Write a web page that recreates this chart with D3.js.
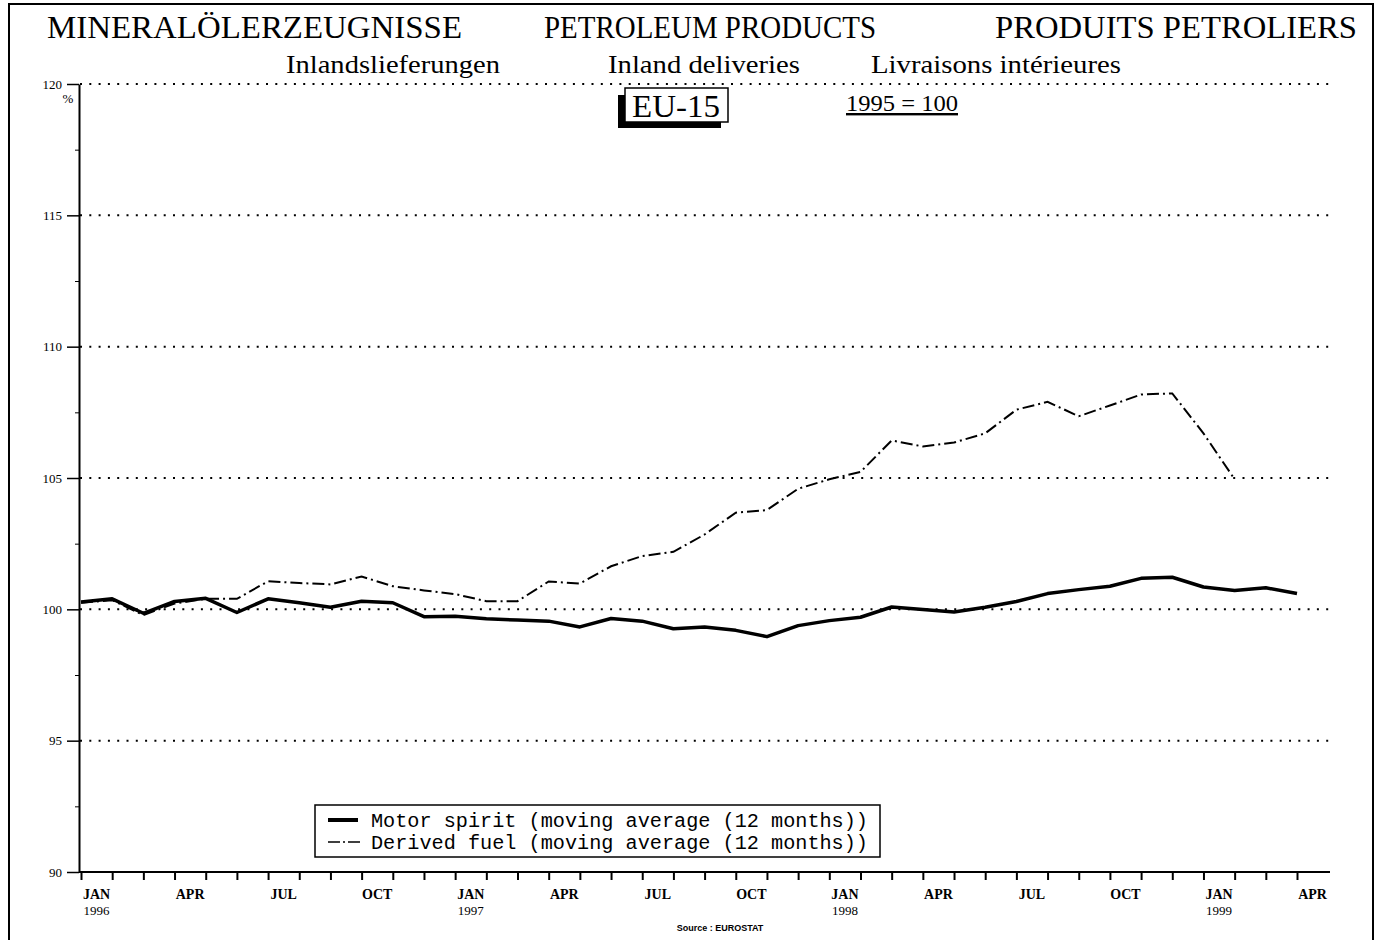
<!DOCTYPE html>
<meta charset="utf-8">
<style>
  body { margin: 0; background: #fff; }
  svg text { fill: #000; }
</style>
<script src="https://d3js.org/d3.v7.min.js"></script>
<div id="chart"></div>
<script>

  // months Jan 1996 .. Apr 1999
  var months = ["1996-01","1996-02","1996-03","1996-04","1996-05","1996-06","1996-07","1996-08","1996-09","1996-10","1996-11","1996-12",
                "1997-01","1997-02","1997-03","1997-04","1997-05","1997-06","1997-07","1997-08","1997-09","1997-10","1997-11","1997-12",
                "1998-01","1998-02","1998-03","1998-04","1998-05","1998-06","1998-07","1998-08","1998-09","1998-10","1998-11","1998-12",
                "1999-01","1999-02","1999-03","1999-04"]

  var monthLabels = {"01": "JAN", "04": "APR", "07": "JUL", "10": "OCT"}

  var motorSpirit = [100.28, 100.40, 99.85, 100.30, 100.42, 99.88, 100.40, 100.25, 100.08, 100.31, 100.25, 99.72,
                     99.74, 99.64, 99.59, 99.55, 99.33, 99.65, 99.55, 99.26, 99.33, 99.20, 98.96, 99.38,
                     99.57, 99.70, 100.09, 99.99, 99.90, 100.08, 100.30, 100.60, 100.75, 100.88, 101.18, 101.22,
                     100.85, 100.72, 100.82, 100.60]

  var derivedFuel = [100.25, 100.35, 99.78, 100.22, 100.40, 100.40, 101.07, 101.00, 100.95, 101.25, 100.88, 100.72,
                     100.58, 100.31, 100.31, 101.06, 100.98, 101.64, 102.03, 102.19, 102.85, 103.68, 103.78, 104.59,
                     104.95, 105.23, 106.43, 106.20, 106.35, 106.70, 107.60, 107.90, 107.35, 107.76, 108.18, 108.22,
                     106.70, 104.95]

  var yTicks = [90, 95, 100, 105, 110, 115, 120]
  var yMinor = [92.5, 97.5, 102.5, 107.5, 112.5, 117.5]

  var width = 1380, height = 940

  var svg = d3.select("#chart").append("svg")
    .attr("width", width)
    .attr("height", height)

  // page frame
  svg.append("path")
    .attr("d", "M9,940 L9,4 L1373,4 L1373,940")
    .attr("fill", "none")
    .attr("stroke", "black")
    .attr("stroke-width", 2)

  var x = d3.scalePoint().domain(months).range([81, 1297])
  var y = d3.scaleLinear().domain([90, 120]).range([872, 84])
  var step = x.step()

  // titles
  var serif = "'Liberation Serif', 'Times New Roman', serif"
  function title(tx, ty, size, len, anchor, str) {
    return svg.append("text").attr("x", tx).attr("y", ty)
      .attr("text-anchor", anchor)
      .attr("font-family", serif).attr("font-size", size)
      .attr("textLength", len).attr("lengthAdjust", "spacingAndGlyphs")
      .text(str)
  }
  title(47, 38, 32, 415, "start", "MINERALÖLERZEUGNISSE")
  title(544, 38, 32, 332, "start", "PETROLEUM PRODUCTS")
  title(995, 38, 32, 362, "start", "PRODUITS PETROLIERS")

  title(286, 73, 26, 214, "start", "Inlandslieferungen")
  title(608, 73, 26, 192, "start", "Inland deliveries")
  title(871, 73, 26, 250, "start", "Livraisons intérieures")

  // EU-15 box with shadow
  svg.append("rect").attr("x", 618).attr("y", 95).attr("width", 103).attr("height", 33).attr("fill", "black")
  svg.append("rect").attr("x", 625).attr("y", 88).attr("width", 103).attr("height", 34)
    .attr("fill", "white").attr("stroke", "black").attr("stroke-width", 1.5)
  title(632, 117, 31, 88, "start", "EU-15")

  title(846, 111, 24, 112, "start", "1995 = 100")
    .attr("text-decoration", "underline")

  // grid
  svg.append("g")
    .selectAll("line")
    .data(yTicks.filter(function(d) { return d > 90 }))
    .enter().append("line")
      .attr("x1", 80).attr("x2", 1330)
      .attr("y1", function(d) { return y(d) }).attr("y2", function(d) { return y(d) })
      .attr("stroke", "black")
      .attr("stroke-width", 2)
      .attr("stroke-dasharray", "2,7.3")

  // y axis
  var yAxis = svg.append("g")
    .attr("transform", "translate(79,0)")
    .call(d3.axisLeft(y).tickValues(yTicks).tickSize(12).tickSizeOuter(0).tickPadding(5))
  yAxis.select(".domain").attr("stroke-width", 2)
  yAxis.selectAll(".tick line").attr("stroke-width", 1.5)
  yAxis.selectAll("text").attr("font-family", serif).attr("font-size", 13)

  svg.append("g")
    .attr("transform", "translate(79,0)")
    .call(d3.axisLeft(y).tickValues(yMinor).tickSize(4).tickFormat(""))
    .call(function(g) { g.select(".domain").remove() })

  svg.append("text").attr("x", 68).attr("y", 103).attr("text-anchor", "middle")
    .attr("font-family", serif).attr("font-size", 13).text("%")

  // x axis
  var xAxis = svg.append("g")
    .attr("transform", "translate(0,872)")
    .call(d3.axisBottom(x).tickSize(8).tickSizeOuter(0).tickFormat(""))
  xAxis.select(".domain").attr("d", "M79,0H1330").attr("stroke-width", 2)
  xAxis.selectAll(".tick line").attr("stroke-width", 2)

  var labelled = months.filter(function(m) { return monthLabels[m.slice(5)] })
  svg.append("g").selectAll("text")
    .data(labelled)
    .enter().append("text")
      .attr("x", function(m) { return x(m) + step / 2 })
      .attr("y", 899)
      .attr("text-anchor", "middle")
      .attr("font-family", serif)
      .attr("font-weight", "bold")
      .attr("font-size", 14)
      .text(function(m) { return monthLabels[m.slice(5)] })

  svg.append("g").selectAll("text")
    .data(labelled.filter(function(m) { return m.slice(5) == "01" }))
    .enter().append("text")
      .attr("x", function(m) { return x(m) + step / 2 })
      .attr("y", 915)
      .attr("text-anchor", "middle")
      .attr("font-family", serif)
      .attr("font-size", 13)
      .text(function(m) { return m.slice(0, 4) })

  svg.append("text").attr("x", 720).attr("y", 931).attr("text-anchor", "middle")
    .attr("font-family", "'Liberation Sans', Arial, sans-serif").attr("font-weight", "bold").attr("font-size", 9)
    .text("Source : EUROSTAT")

  // lines
  var line = d3.line()
    .x(function(d, i) { return x(months[i]) })
    .y(function(d) { return y(d) })

  svg.append("path")
    .datum(derivedFuel)
    .attr("d", line)
    .attr("fill", "none")
    .attr("stroke", "black")
    .attr("stroke-width", 2)
    .attr("stroke-dasharray", "12,4,2,4")

  svg.append("path")
    .datum(motorSpirit)
    .attr("d", line)
    .attr("fill", "none")
    .attr("stroke", "black")
    .attr("stroke-width", 3.5)
    .attr("stroke-linejoin", "round")

  // legend
  var legend = svg.append("g")
  legend.append("rect").attr("x", 315).attr("y", 805).attr("width", 565).attr("height", 52)
    .attr("fill", "white").attr("stroke", "black").attr("stroke-width", 1.5)
  legend.append("line").attr("x1", 328).attr("x2", 358).attr("y1", 820).attr("y2", 820)
    .attr("stroke", "black").attr("stroke-width", 4)
  legend.append("line").attr("x1", 328).attr("x2", 360).attr("y1", 842).attr("y2", 842)
    .attr("stroke", "black").attr("stroke-width", 1.5).attr("stroke-dasharray", "12,3,2,3")
  var mono = "'Liberation Mono', 'Courier New', monospace"
  legend.append("text").attr("x", 371).attr("y", 827).attr("font-family", mono).attr("font-size", 20)
    .attr("textLength", 497).attr("lengthAdjust", "spacingAndGlyphs")
    .text("Motor spirit (moving average (12 months))")
  legend.append("text").attr("x", 371).attr("y", 849).attr("font-family", mono).attr("font-size", 20)
    .attr("textLength", 497).attr("lengthAdjust", "spacingAndGlyphs")
    .text("Derived fuel (moving average (12 months))")

</script>
